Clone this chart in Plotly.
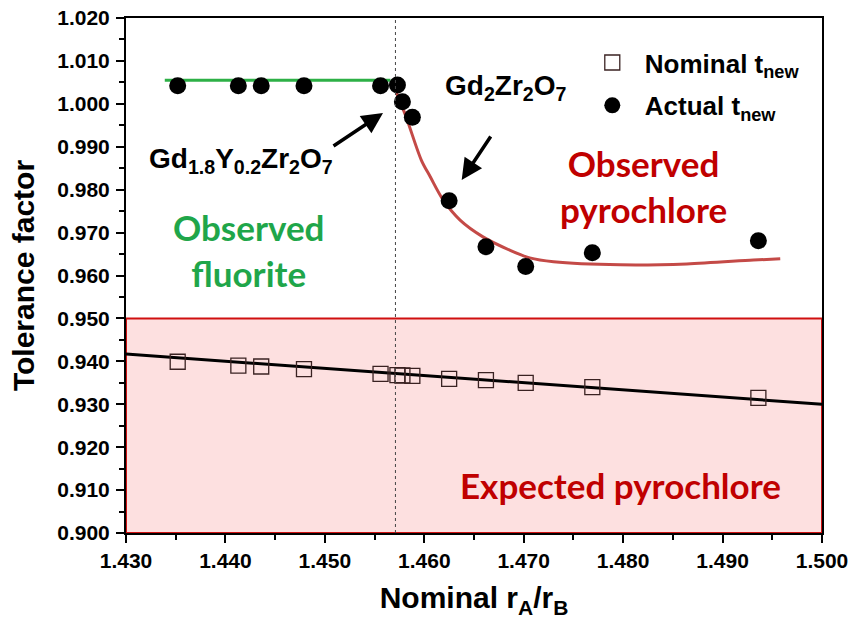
import plotly.graph_objects as go

# ---------------- data ----------------
ratio = [1.4352, 1.4413, 1.4436, 1.4479, 1.4556, 1.4573, 1.4578, 1.4588,
         1.4625, 1.4662, 1.4702, 1.4769, 1.4936]
actual_t = [1.0042, 1.0042, 1.0042, 1.0042, 1.0042, 1.0044, 1.0005, 0.9969,
            0.9774, 0.9667, 0.9621, 0.9653, 0.9681]
nominal_t = [0.9399, 0.9390, 0.9388, 0.9382, 0.9371, 0.9368, 0.9367, 0.9366,
             0.9359, 0.9356, 0.9350, 0.9340, 0.9315]

# linear fit through nominal values (end points)
nominal_fit_x = [1.430, 1.500]
nominal_fit_y = [0.9417, 0.9300]

# fluorite plateau line
fluorite_x = [1.4339, 1.4566]
fluorite_y = [1.0055, 1.0055]

# pyrochlore guide curve
pyro_x = [1.4567, 1.4581, 1.4597, 1.4606, 1.4619, 1.4636, 1.4659, 1.4686,
          1.4706, 1.4730, 1.4797, 1.4864, 1.4931, 1.4958]
pyro_y = [1.0054, 0.9974, 0.9869, 0.9830, 0.9776, 0.9729, 0.9690, 0.9659,
          0.9641, 0.9632, 0.9625, 0.9627, 0.9636, 0.9639]

boundary_x = 1.4571
expected_band = [0.900, 0.950]

x_range = [1.430, 1.500]
y_range = [0.900, 1.020]
x_ticks = [1.430, 1.440, 1.450, 1.460, 1.470, 1.480, 1.490, 1.500]
y_ticks = [0.900, 0.910, 0.920, 0.930, 0.940, 0.950, 0.960, 0.970, 0.980,
           0.990, 1.000, 1.010, 1.020]

# ---------------- styles ----------------
ARIAL = "Liberation Sans, Arial, sans-serif"
CALIBRI = "Lato, Open Sans, sans-serif"
RED_TXT = "#C00000"
GREEN_TXT = "#1FA64A"

fig = go.Figure()

fig.add_trace(go.Scatter(x=nominal_fit_x, y=nominal_fit_y, mode="lines",
                         line=dict(color="black", width=3), showlegend=False,
                         hoverinfo="skip"))
fig.add_trace(go.Scatter(x=fluorite_x, y=fluorite_y, mode="lines",
                         line=dict(color="#2DB046", width=3), showlegend=False,
                         hoverinfo="skip"))
fig.add_trace(go.Scatter(x=pyro_x, y=pyro_y, mode="lines",
                         line=dict(color="#C44A47", width=3, shape="spline",
                                   smoothing=0.9),
                         showlegend=False, hoverinfo="skip"))
fig.add_trace(go.Scatter(x=ratio, y=nominal_t, mode="markers",
                         name="Nominal t<sub>new</sub>", legendgroup="a",
                         marker=dict(symbol="square-open", size=15,
                                     color="#3a2222", line=dict(width=1.3))))
fig.add_trace(go.Scatter(x=ratio, y=actual_t, mode="markers",
                         name="Actual t<sub>new</sub>", legendgroup="b",
                         marker=dict(symbol="circle", size=17, color="black")))

fig.add_shape(type="rect", xref="x", yref="y", x0=x_range[0], x1=x_range[1],
              y0=expected_band[0], y1=expected_band[1],
              fillcolor="#FDE0E0", line=dict(color="#D01010", width=2),
              layer="below")
fig.add_shape(type="line", xref="x", yref="paper", x0=boundary_x, x1=boundary_x,
              y0=0, y1=1, line=dict(color="#444444", width=1, dash="dot"))

annos = [
    dict(x=1.4416, y=0.9869, text="Gd<sub>1.8</sub>Y<sub>0.2</sub>Zr<sub>2</sub>O<sub>7</sub>",
         font=dict(family=ARIAL, size=28, color="black", weight="bold")),
    dict(x=1.4682, y=1.0037, text="Gd<sub>2</sub>Zr<sub>2</sub>O<sub>7</sub>",
         font=dict(family=ARIAL, size=28, color="black", weight="bold")),
    dict(x=1.4423, y=0.9659, text="Observed<br>fluorite",
         font=dict(family=CALIBRI, size=35, color=GREEN_TXT, weight="bold")),
    dict(x=1.4820, y=0.9809, text="Observed<br>pyrochlore",
         font=dict(family=CALIBRI, size=35, color=RED_TXT, weight="bold")),
    dict(x=1.4797, y=0.9112, text="Expected pyrochlore",
         font=dict(family=CALIBRI, size=35, color=RED_TXT, weight="bold")),
]
for a in annos:
    fig.add_annotation(xref="x", yref="y", showarrow=False, xanchor="center",
                       yanchor="middle", **a)

arrows = [
    dict(x=1.45585, y=0.99787, ax=1.45072, ay=0.98994),
    dict(x=1.46376, y=0.98225, ax=1.46678, ay=0.99274),
]
for a in arrows:
    fig.add_annotation(xref="x", yref="y", axref="x", ayref="y", text="",
                       showarrow=True, arrowhead=2, arrowsize=1.2, arrowwidth=3.5,
                       arrowcolor="black", **a)

axis_common = dict(showline=True, linewidth=2, linecolor="black", mirror=True,
                   ticks="outside", ticklen=8, tickwidth=2, tickcolor="black",
                   showgrid=False, zeroline=False, automargin=False,
                   ticklabeloverflow="allow",
                   tickfont=dict(family=ARIAL, size=21, color="black", weight="bold"))

fig.update_xaxes(range=x_range, tickvals=x_ticks,
                 ticktext=[f"{v:.3f}" for v in x_ticks],
                 minor=dict(ticks="outside", ticklen=5, tickwidth=2,
                            tickcolor="black", dtick=0.005, tick0=1.430),
                 title=dict(text="Nominal r<sub>A</sub>/r<sub>B</sub>", standoff=16,
                            font=dict(family=ARIAL, size=30, color="black",
                                      weight="bold")),
                 **axis_common)
fig.update_yaxes(range=y_range, tickvals=y_ticks,
                 ticktext=[f"{v:.3f}" for v in y_ticks],
                 ticklabelstandoff=2,
                 minor=dict(ticks="outside", ticklen=5, tickwidth=2,
                            tickcolor="black", dtick=0.005, tick0=0.900),
                 title=dict(text="Tolerance factor", standoff=14,
                            font=dict(family=ARIAL, size=30, color="black",
                                      weight="bold")),
                 **axis_common)

fig.update_layout(
    width=854, height=630,
    margin=dict(l=126, r=32, t=18, b=97),
    paper_bgcolor="white", plot_bgcolor="white",
    legend=dict(x=0.652, y=0.959, xanchor="left", yanchor="top",
                bgcolor="rgba(0,0,0,0)", borderwidth=0, tracegroupgap=6,
                font=dict(family=ARIAL, size=26, color="black", weight="bold"),
                itemsizing="trace", itemwidth=55),
)

fig.write_html("out.html", config={"displayModeBar": False},
               post_script="document.body.style.margin='0';")
